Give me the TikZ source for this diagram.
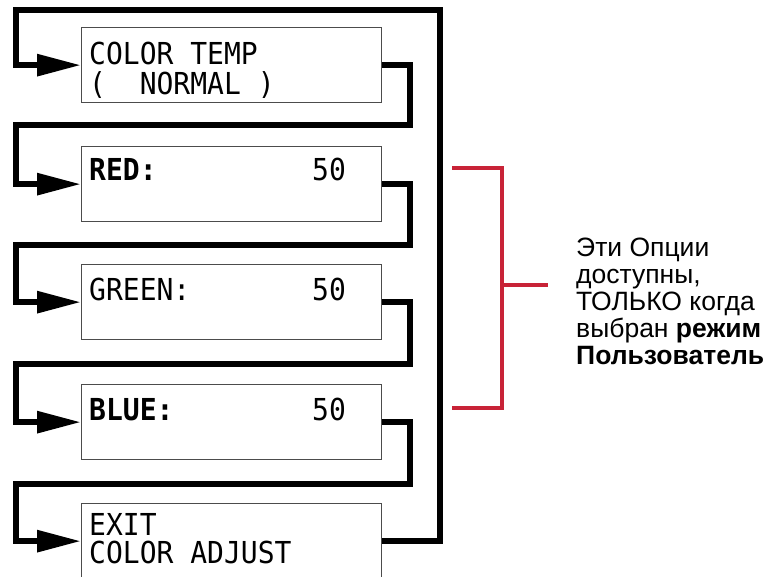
\documentclass[tikz,border=0pt]{standalone}
\usepackage{fontspec}
\setmainfont{Liberation Sans}
\newfontfamily\lcd{DejaVu Sans Mono}
\usetikzlibrary{arrows.meta}
\definecolor{bred}{RGB}{200,35,55}
\begin{document}
\begin{tikzpicture}[x=1pt,y=-1pt,
  box/.style={draw=black!70,line width=1.3pt,minimum width=300pt,minimum height=75pt,inner sep=0pt,anchor=north west},
  conn/.style={line width=6pt,line join=miter,-{Triangle[length=44pt,width=21pt]}},
  lcdtxt/.style={font=\lcd\fontsize{28}{30}\selectfont,anchor=base west,inner sep=0pt,text height=21pt,text depth=0pt},
  lcdbold/.style={lcdtxt,font=\lcd\bfseries\fontsize{28}{30}\selectfont},
  brk/.style={draw=bred,line width=4pt},
  note/.style={font=\fontsize{26.5}{27}\selectfont,align=left,anchor=north west,inner sep=0pt}]
\useasboundingbox (0,0) rectangle (768,577);
\clip (0,0) rectangle (768,577);
% boxes
\node[box] (b1) at (81,27) {};
\node[box] (b2) at (81,146) {};
\node[box] (b3) at (81,264) {};
\node[box] (b4) at (81,384) {};
\node[box] (b5) at (81,503) {};
% texts
\node[lcdtxt] (t1a) at (89,65) {\scalebox{1}[1.08]{COLOR TEMP}};
\node[lcdtxt] (t1b) at (89,95) {\scalebox{1}[1.08]{(\ \ NORMAL )}};
\node[lcdbold] (t2a) at (89,181) {\scalebox{1}[1.08]{RED:}};
\node[lcdtxt] (t2b) at (312,181) {\scalebox{1}[1.08]{50}};
\node[lcdtxt] (t3a) at (89,300) {\scalebox{1}[1.08]{GREEN:}};
\node[lcdtxt] (t3b) at (312,300) {\scalebox{1}[1.08]{50}};
\node[lcdbold] (t4a) at (89,420) {\scalebox{1}[1.08]{BLUE:}};
\node[lcdtxt] (t4b) at (312,420) {\scalebox{1}[1.08]{50}};
\node[lcdtxt] (t5a) at (89,535) {\scalebox{1}[1.08]{EXIT}};
\node[lcdtxt] (t5b) at (89,563) {\scalebox{1}[1.08]{COLOR ADJUST}};
% corner coordinates
\coordinate (R1) at (409.5,125);
\coordinate (R2) at (409.5,245);
\coordinate (R3) at (409.5,364);
\coordinate (R4) at (409.5,484);
\coordinate (XL) at (16,0);
\coordinate (T) at (440,10.5);
% connectors
\draw[conn] (b1.east) -| (R1) -| (XL |- b2.west) -- (b2.west);
\draw[conn] (b2.east) -| (R2) -| (XL |- b3.west) -- (b3.west);
\draw[conn] (b3.east) -| (R3) -| (XL |- b4.west) -- (b4.west);
\draw[conn] (b4.east) -| (R4) -| (XL |- b5.west) -- (b5.west);
\draw[conn] (b5.east) -| (T) -| (XL |- b1.west) -- (b1.west);
% red bracket
\coordinate (k1) at (452,168);
\coordinate (k2) at (502,168);
\coordinate (k3) at (502,408);
\coordinate (k4) at (452,408);
\coordinate (km) at (502,285);
\coordinate (ke) at (548,285);
\draw[brk] (k1) -- (k2) -- (k3) -- (k4);
\draw[brk] (km) -- (ke);
\node[note] (txt) at (576,238) {Эти Опции\\доступны,\\ТОЛЬКО когда\\выбран \textbf{режим}\\\textbf{Пользователь}};
\end{tikzpicture}
\end{document}
